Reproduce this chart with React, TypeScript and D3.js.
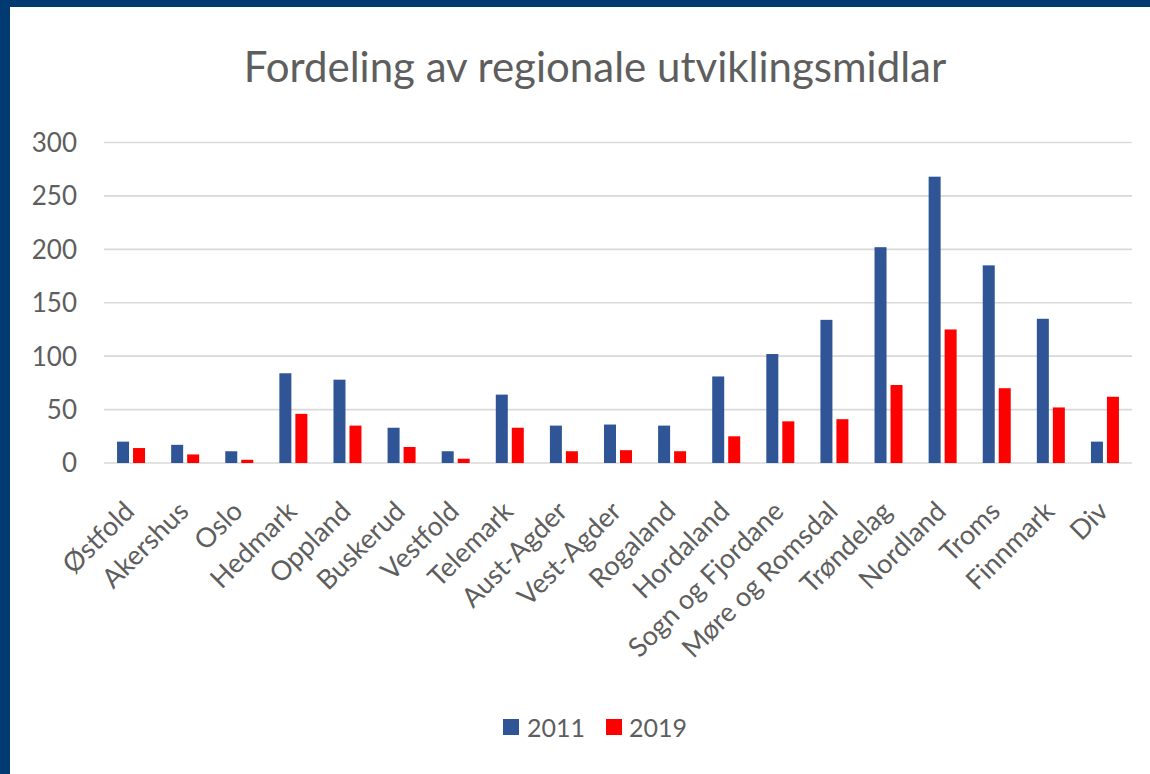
import React from "react";
import * as d3 from "d3";

const categories = [
  "Østfold", "Akershus", "Oslo", "Hedmark", "Oppland", "Buskerud", "Vestfold",
  "Telemark", "Aust-Agder", "Vest-Agder", "Rogaland", "Hordaland",
  "Sogn og Fjordane", "Møre og Romsdal", "Trøndelag", "Nordland", "Troms",
  "Finnmark", "Div",
];
const series = ["2011", "2019"];
const values2011 = [20, 17, 11, 84, 78, 33, 11, 64, 35, 36, 35, 81, 102, 134, 202, 268, 185, 135, 20];
const values2019 = [14, 8, 3, 46, 35, 15, 4, 33, 11, 12, 11, 25, 39, 41, 73, 125, 70, 52, 62];
const yTicks = [0, 50, 100, 150, 200, 250, 300];
const title = "Fordeling av regionale utviklingsmidlar";

const W = 1150;
const H = 774;
const FONT = "Lato, 'Open Sans', sans-serif";
const TEXT = "#5e5e5e";
const colors: Record<string, string> = { "2011": "#2F5597", "2019": "#FF0000" };

export default function App() {
  const x = d3.scaleBand<string>().domain(categories).range([104, 1132]).paddingInner(0).paddingOuter(0);
  const inner = d3.scaleBand<string>().domain(series).range([0, 28]).paddingInner(0.25).paddingOuter(0);
  const y = d3.scaleLinear().domain([0, 300]).range([463, 142.5]);
  const data: Record<string, number[]> = { "2011": values2011, "2019": values2019 };

  return (
    <svg width={W} height={H} style={{ position: "absolute", left: 0, top: 0, display: "block" }}>
      <rect x={0} y={0} width={W} height={H} fill="#003a70" />
      <rect x={10} y={7} width={W - 10} height={H - 7} fill="#ffffff" />
      <text x={595} y={82} textAnchor="middle" fontFamily={FONT} fontSize={42} fill={TEXT}>
        {title}
      </text>
      {yTicks.map((t) => (
        <g key={t}>
          <line x1={104} x2={1132} y1={y(t)} y2={y(t)} stroke="#d9d9d9" strokeWidth={1.6} />
          <text x={77} y={y(t) + 9.4} textAnchor="end" fontFamily={FONT} fontSize={26} fill={TEXT}>
            {t}
          </text>
        </g>
      ))}
      {categories.map((c, i) => {
        const cx = (x(c) as number) + x.bandwidth() / 2;
        return (
          <g key={c}>
            {series.map((s) => {
              const v = data[s][i];
              return (
                <rect
                  key={s}
                  x={cx - 14 + (inner(s) as number)}
                  y={y(v)}
                  width={inner.bandwidth()}
                  height={y(0) - y(v)}
                  fill={colors[s]}
                />
              );
            })}
            <text
              transform={`translate(${cx + 5},${513}) rotate(-45)`}
              textAnchor="end"
              fontFamily={FONT}
              fontSize={27}
              fill={TEXT}
            >
              {c}
            </text>
          </g>
        );
      })}
      <g>
        <rect x={503} y={719} width={16} height={16} fill={colors["2011"]} />
        <text x={527} y={737} fontFamily={FONT} fontSize={25} fill={TEXT}>2011</text>
        <rect x={606} y={719} width={16} height={16} fill={colors["2019"]} />
        <text x={629} y={737} fontFamily={FONT} fontSize={25} fill={TEXT}>2019</text>
      </g>
    </svg>
  );
}
